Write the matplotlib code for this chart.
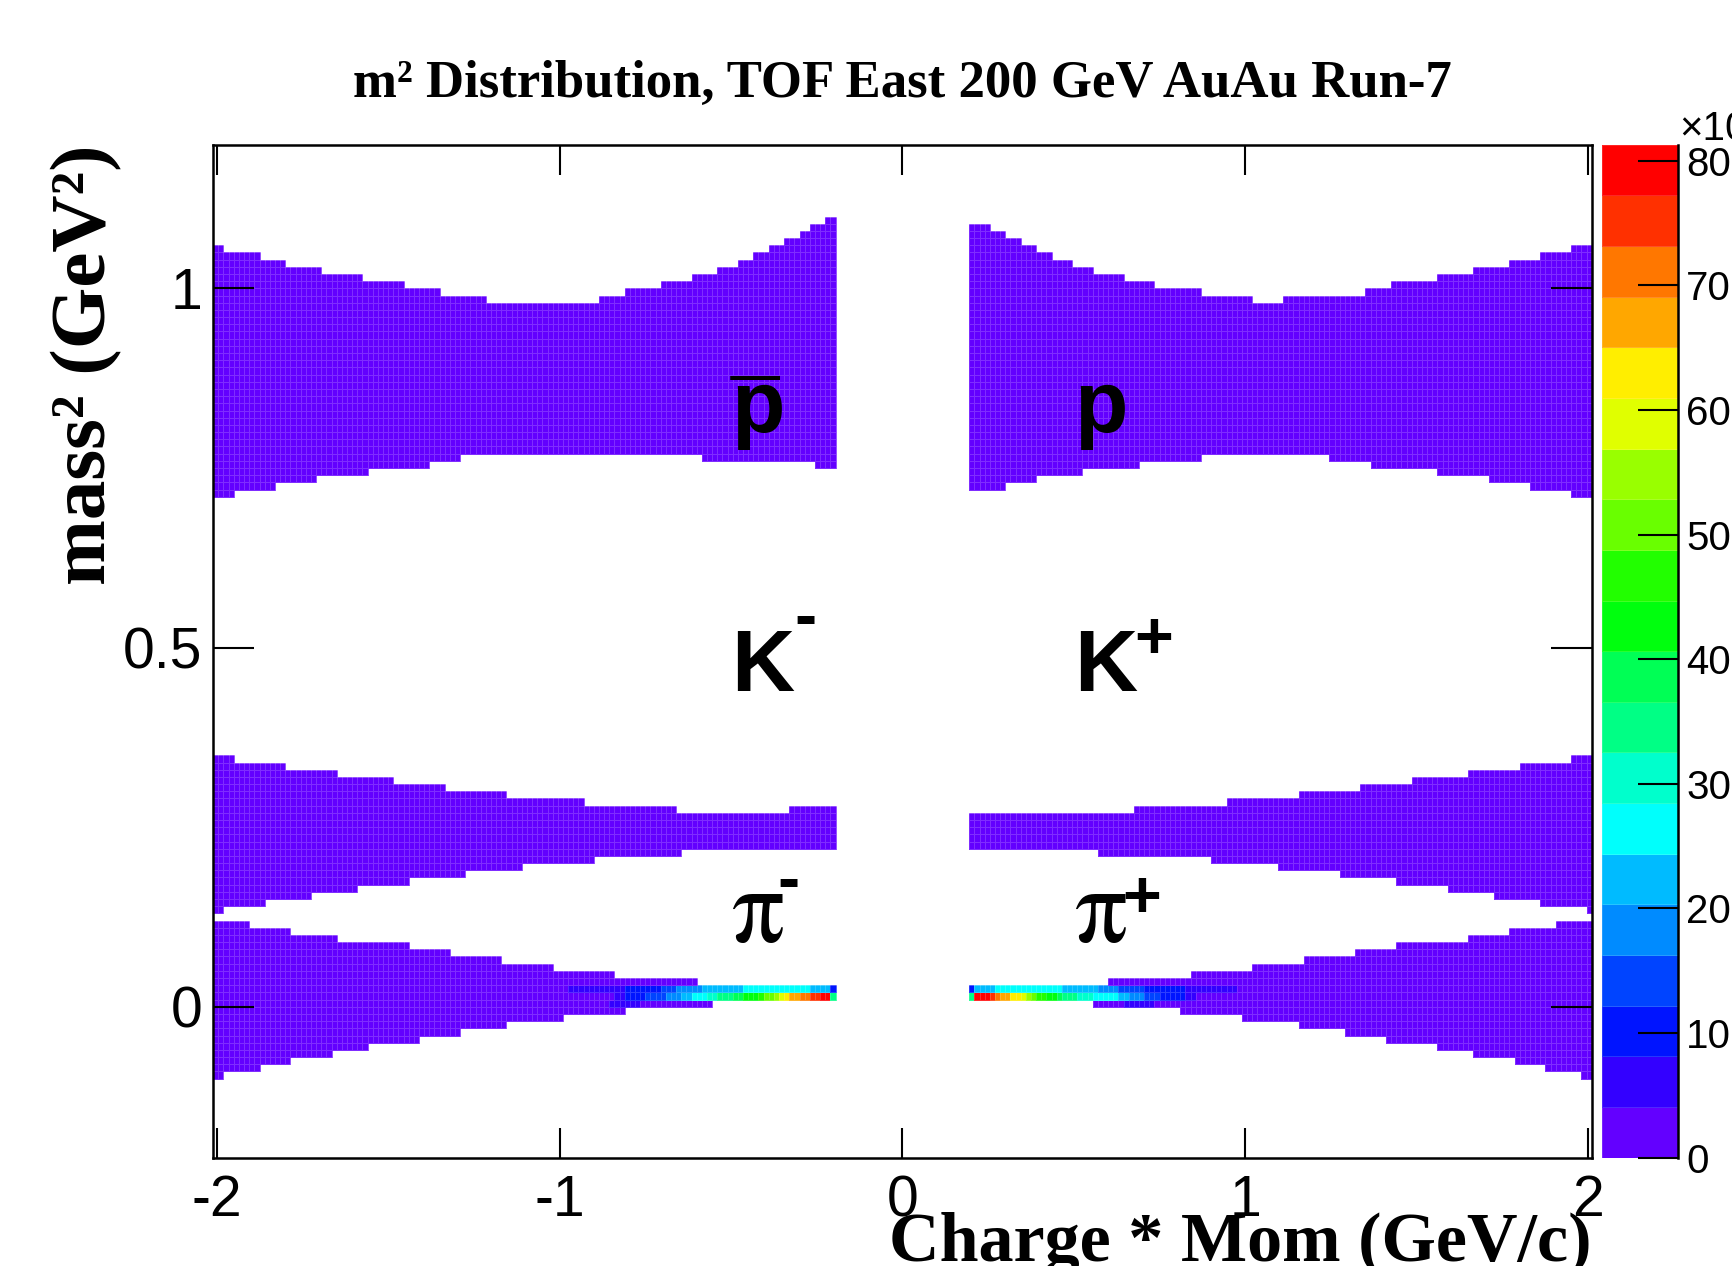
import colorsys
import numpy as np
import matplotlib
matplotlib.use('Agg')
import matplotlib.pyplot as plt
from matplotlib.colors import ListedColormap, BoundaryNorm

plt.rcParams['font.family'] = ['Liberation Sans', 'DejaVu Sans']
plt.rcParams['axes.unicode_minus'] = False

# ---- binning of the histogram (charge*p, m^2) ----
x_bin = 0.015
y_bin = 0.01
x_range = (-2.01, 2.01)
y_range = (-0.21, 1.20)

z_max = 81.3        # top of the colour scale, in 10^3 counts
band_counts = 1.5   # content of the plain purple cells, 10^3 counts

# ---- band edges: breakpoints in charge*p, m^2 per step ----
# anti-proton (left) / proton (right)
pbar_top_x = [-2.01, -1.98, -1.875, -1.80, -1.695, -1.575, -1.455, -1.35, -1.215, -0.885,
              -0.81, -0.705, -0.615, -0.54, -0.48, -0.435, -0.39, -0.345, -0.30, -0.27,
              -0.225, -0.195]
pbar_top_y = [1.06, 1.05, 1.04, 1.03, 1.02, 1.01, 1.00, 0.99, 0.98, 0.99, 1.00, 1.01,
              1.02, 1.03, 1.04, 1.05, 1.06, 1.07, 1.08, 1.09, 1.10]
pbar_bot_x = [-2.01, -1.95, -1.83, -1.71, -1.56, -1.38, -1.29, -0.585, -0.255, -0.195]
pbar_bot_y = [0.71, 0.72, 0.73, 0.74, 0.75, 0.76, 0.77, 0.76, 0.75]

p_top_x = [0.195, 0.255, 0.30, 0.345, 0.39, 0.435, 0.495, 0.555, 0.645, 0.735, 0.87,
           1.02, 1.11, 1.35, 1.425, 1.56, 1.665, 1.77, 1.86, 1.95, 2.01]
p_top_y = [1.09, 1.08, 1.07, 1.06, 1.05, 1.04, 1.03, 1.02, 1.01, 1.00, 0.99, 0.98,
           0.99, 1.00, 1.01, 1.02, 1.03, 1.04, 1.05, 1.06]
p_bot_x = [0.195, 0.30, 0.39, 0.525, 0.69, 0.87, 1.245, 1.365, 1.56, 1.71, 1.83, 1.95, 2.01]
p_bot_y = [0.72, 0.73, 0.74, 0.75, 0.76, 0.77, 0.76, 0.75, 0.74, 0.73, 0.72, 0.71]

# kaons
km_top_x = [-2.01, -1.95, -1.80, -1.65, -1.485, -1.335, -1.155, -0.93, -0.66, -0.33, -0.195]
km_top_y = [0.35, 0.34, 0.33, 0.32, 0.31, 0.30, 0.29, 0.28, 0.27, 0.28]
km_bot_x = [-2.01, -1.98, -1.86, -1.725, -1.59, -1.44, -1.275, -1.11, -0.90, -0.645, -0.195]
km_bot_y = [0.13, 0.14, 0.15, 0.16, 0.17, 0.18, 0.19, 0.20, 0.21, 0.22]

kp_top_x = [0.195, 0.675, 0.945, 1.155, 1.335, 1.485, 1.65, 1.80, 1.95, 2.01]
kp_top_y = [0.27, 0.28, 0.29, 0.30, 0.31, 0.32, 0.33, 0.34, 0.35]
kp_bot_x = [0.195, 0.57, 0.90, 1.095, 1.275, 1.44, 1.59, 1.725, 1.86, 1.995, 2.01]
kp_bot_y = [0.22, 0.21, 0.20, 0.19, 0.18, 0.17, 0.16, 0.15, 0.14, 0.13]

# pions
pim_top_x = [-2.01, -1.905, -1.785, -1.65, -1.44, -1.32, -1.17, -1.02, -0.84, -0.60, -0.195]
pim_top_y = [0.12, 0.11, 0.10, 0.09, 0.08, 0.07, 0.06, 0.05, 0.04, 0.03]
pim_bot_x = [-2.01, -1.98, -1.875, -1.785, -1.665, -1.56, -1.41, -1.29, -1.155, -0.99,
             -0.81, -0.555, -0.195]
pim_bot_y = [-0.10, -0.09, -0.08, -0.07, -0.06, -0.05, -0.04, -0.03, -0.02, -0.01, 0.00, 0.01]

pip_top_x = [0.195, 0.60, 0.84, 1.02, 1.17, 1.32, 1.44, 1.65, 1.77, 1.905, 2.01]
pip_top_y = [0.03, 0.04, 0.05, 0.06, 0.07, 0.08, 0.09, 0.10, 0.11, 0.12]
pip_bot_x = [0.195, 0.555, 0.81, 0.99, 1.155, 1.29, 1.41, 1.56, 1.665, 1.785, 1.875, 1.98, 2.01]
pip_bot_y = [0.01, 0.00, -0.01, -0.02, -0.03, -0.04, -0.05, -0.06, -0.07, -0.08, -0.09, -0.10]

# ---- pion peak cells (10^3 counts), read from the colours ----
# left side, cells from charge*p = -1.005 up to -0.195
pim_row_002 = [2, 2, 6, 6, 6, 6, 6, 6, 6, 6, 6, 6, 6, 10, 10, 10, 10, 10, 10, 10,
               14, 14, 14, 18, 18, 18, 18, 18, 22, 22, 22, 22, 22, 22, 22, 22,
               26, 26, 26, 26, 26, 26, 26, 26, 26, 26, 26, 26, 26, 22, 22, 22, 22, 10]
pim_row_001 = [2, 2, 2, 2, 2, 2, 2, 2, 2, 2, 2, 6, 6, 10, 10, 10, 10, 14, 14, 14, 14,
               18, 18, 18, 22, 22, 26, 26, 26, 30, 30, 35, 35, 35, 39, 39, 43, 43, 43,
               47, 51, 51, 55, 59, 63, 67, 67, 71, 71, 75, 75, 79, 79, 35]
# row 0.00-0.01, cells from -1.005 up to -0.555
pim_row_000 = [2, 2, 2, 2, 2, 2, 2, 2, 2, 2, 6, 6, 6, 6, 6, 6,
               2, 2, 2, 2, 2, 2, 2, 2, 2, 2, 2, 2, 2, 2]
# right side, cells from 0.195 up to 1.005
pip_row_002 = [10, 22, 22, 22, 22, 26, 26, 26, 26, 26, 26, 26, 26, 26, 26, 26, 26, 26,
               22, 22, 22, 22, 22, 22, 22, 18, 18, 18, 18, 14, 14, 14, 14, 14,
               10, 10, 10, 10, 10, 10, 10, 10, 6, 6, 6, 6, 6, 6, 6, 6, 6, 6, 2, 2]
pip_row_001 = [35, 79, 79, 79, 75, 71, 67, 67, 63, 63, 59, 55, 51, 47, 47, 43, 43, 39,
               35, 35, 35, 30, 30, 30, 26, 26, 26, 26, 26, 22, 22, 18, 18, 18,
               14, 14, 14, 10, 10, 10, 10, 10, 6, 6, 2, 2, 2, 2, 2, 2, 2, 2, 2, 2]
# row 0.00-0.01, cells from 0.555 up to 1.005
pip_row_000 = [2, 2, 2, 2, 2, 2, 6, 6, 6, 6, 6, 6,
               2, 2, 2, 2, 2, 2, 2, 2, 2, 2, 2, 2, 2, 2, 2, 2, 2, 2]

# ---- build the 2D histogram ----
nx = int(round((x_range[1] - x_range[0]) / x_bin))
ny = int(round((y_range[1] - y_range[0]) / y_bin))
xe = x_range[0] + x_bin * np.arange(nx + 1)
ye = y_range[0] + y_bin * np.arange(ny + 1)
xc = 0.5 * (xe[:-1] + xe[1:])
yc = 0.5 * (ye[:-1] + ye[1:])
Z = np.zeros((ny, nx))


def step_value(edges, vals, x):
    idx = np.clip(np.searchsorted(edges, x, side='right') - 1, 0, len(vals) - 1)
    return np.asarray(vals)[idx]


bands = [(pbar_top_x, pbar_top_y, pbar_bot_x, pbar_bot_y),
         (p_top_x, p_top_y, p_bot_x, p_bot_y),
         (km_top_x, km_top_y, km_bot_x, km_bot_y),
         (kp_top_x, kp_top_y, kp_bot_x, kp_bot_y),
         (pim_top_x, pim_top_y, pim_bot_x, pim_bot_y),
         (pip_top_x, pip_top_y, pip_bot_x, pip_bot_y)]

for tx, ty, bx, by in bands:
    inx = (xc > tx[0]) & (xc < tx[-1])
    top = step_value(tx, ty, xc)
    bot = step_value(bx, by, xc)
    mask = inx[None, :] & (yc[:, None] > bot[None, :]) & (yc[:, None] < top[None, :])
    Z[mask] = band_counts


def col(x):
    return int(round((x - x_range[0]) / x_bin))


def row(y):
    return int(round((y - y_range[0]) / y_bin))


for y0, x0, vals in [(0.02, -1.005, pim_row_002), (0.01, -1.005, pim_row_001),
                     (0.00, -1.005, pim_row_000), (0.02, 0.195, pip_row_002),
                     (0.01, 0.195, pip_row_001), (0.00, 0.555, pip_row_000)]:
    Z[row(y0), col(x0):col(x0) + len(vals)] = vals

# ROOT "pretty" palette (violet -> red), 20 contour levels
pretty = [colorsys.hls_to_rgb((280 - (j + 1) * 5.6) / 360, 0.5, 1.0) for j in range(50)]
cmap = ListedColormap([pretty[int((i + 0.99) * 50 / 20)] for i in range(20)])
levels = np.linspace(0, z_max, 21)
norm = BoundaryNorm(levels, cmap.N)

# ---- figure ----
fig = plt.figure(figsize=(17.32, 12.66), dpi=100)
ax = fig.add_axes([0.1231, 0.0856, 0.7959, 0.8001])
cax = fig.add_axes([0.9248, 0.0856, 0.0440, 0.8001])

ax.pcolormesh(xe, ye, np.ma.masked_less_equal(Z, 0), cmap=cmap, norm=norm,
              edgecolors=(1, 1, 1, 0.18), linewidth=0.4)

ax.set_xlim(x_range)
ax.set_ylim(y_range)
ax.set_xticks([-2, -1, 0, 1, 2])
ax.set_xticklabels(['-2', '-1', '0', '1', '2'])
ax.set_yticks([0, 0.5, 1])
ax.set_yticklabels(['0', '0.5', '1'])
ax.tick_params(direction='in', top=True, right=True, width=1.5, labelsize=41)
ax.tick_params(axis='x', length=21.5, pad=12)
ax.tick_params(axis='y', length=29.5, pad=8)
for s in ax.spines.values():
    s.set_linewidth(1.8)
    s.set_zorder(5)

# colour scale
mid = 0.5 * (levels[:-1] + levels[1:])
cax.pcolormesh([0, 1], levels, mid[:, None], cmap=cmap, norm=norm,
               edgecolors=(1, 1, 1, 0.15), linewidth=0.4)
cax.set_xlim(0, 1)
cax.set_ylim(0, z_max)
cax.set_xticks([])
cax.set_yticks(np.arange(0, 81, 10))
cax.yaxis.tick_right()
cax.tick_params(axis='y', direction='in', length=29, width=1.5, labelsize=29, pad=6)
for side in ['left', 'top', 'bottom']:
    cax.spines[side].set_visible(False)
cax.spines['right'].set_linewidth(1.8)
fig.text(0.9695, 0.8894, '\u00d710\u00b3', ha='left', va='baseline', size=29)

# titles
serif_bold = dict(family='Liberation Serif', weight='bold')
fig.text(0.521, 0.923, 'm\u00b2 Distribution, TOF East 200 GeV AuAu Run-7',
         ha='center', va='baseline', size=38, **serif_bold)
fig.text(0.919, 0.004, 'Charge * Mom (GeV/c)', ha='right', va='baseline',
         size=50.5, **serif_bold)
fig.text(0.050, 0.8857, 'mass\u00b2 (GeV\u00b2)', rotation=90, ha='center', va='top',
         size=57, **serif_bold)

# particle labels
lab = dict(family='Liberation Sans', weight='bold', ha='left', va='baseline')
pi_font = dict(family='STIXGeneral', ha='left', va='baseline')
ax.text(-0.5, 0.80, 'p', size=63, **lab)
ax.text(-0.5, 0.786, '\u00af', size=63, **lab)
ax.text(0.5, 0.80, 'p', size=63, **lab)
ax.text(-0.5, 0.44, 'K', size=63, **lab)
ax.text(-0.315, 0.515, '-', size=48, **lab)
ax.text(0.5, 0.44, 'K', size=63, **lab)
ax.text(0.675, 0.485, '+', size=48, **lab)
ax.text(-0.5, 0.09, '\u03c0', size=76, **pi_font)
ax.text(-0.365, 0.148, '-', size=48, **lab)
ax.text(0.5, 0.09, '\u03c0', size=76, **pi_font)
ax.text(0.64, 0.125, '+', size=48, **lab)

fig.savefig('out.png', dpi=100)
